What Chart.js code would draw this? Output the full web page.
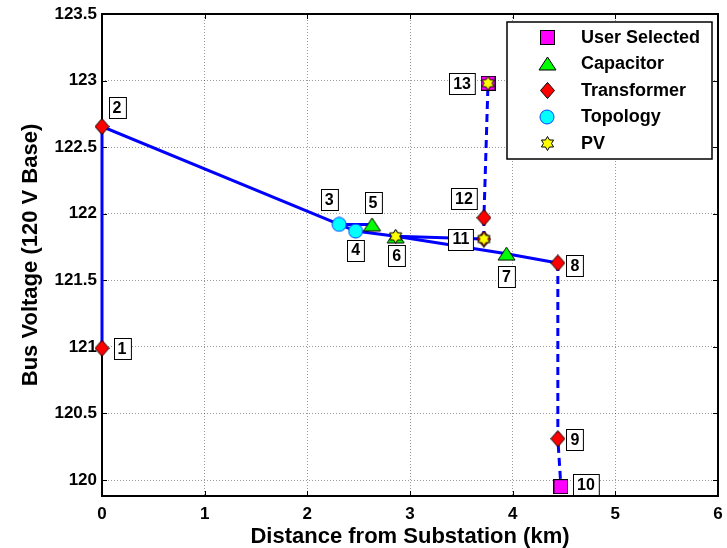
<!DOCTYPE html>
<html>
<head>
<meta charset="utf-8">
<title>Bus Voltage Profile</title>
<script src="https://cdn.jsdelivr.net/npm/chart.js@4.4.0/dist/chart.umd.min.js"></script>
<style>
    html, body { margin: 0; padding: 0; background: #fff; }
    #busChart { display: block; }
</style>
</head>
<body>
<canvas id="busChart" width="727" height="548"></canvas>
<script>
// Bus voltage profile along the feeder

// Bus data (index 0 = bus 1)
const busNames = ['1', '2', '3', '4', '5', '6', '7', '8', '9', '10', '11', '12', '13'];
const busDistance = [0, 0, 2.31, 2.47, 2.63, 2.86, 3.94, 4.44, 4.44, 4.47, 3.72, 3.72, 3.76];
const busVoltage = [120.99, 122.655, 121.92, 121.87, 121.92, 121.83, 121.70, 121.63, 120.31, 119.95, 121.81, 121.97, 122.98];

// Feeder segments, as bus numbers
const mainPath = [1, 2, 3, 4, 6, 7, 8];
const capBranch = [3, 5];
const pvBranch = [6, 11];
const lowerDashed = [8, 9, 10];
const upperDashed = [11, 12, 13];

// Marker groups, as bus numbers
const userSelectedBuses = [10, 13];
const capacitorBuses = [5, 6, 7];
const transformerBuses = [1, 2, 8, 9, 11, 12];
const topologyBuses = [3, 4];
const pvBuses = [6, 11, 13];

const legendNames = ['User Selected', 'Capacitor', 'Transformer', 'Topology', 'PV'];

// Axis ticks
const xTicks = [0, 1, 2, 3, 4, 5, 6];
const yTicks = [120, 120.5, 121, 121.5, 122, 122.5, 123, 123.5];

// Label box offsets (px) from each bus marker
const labelOffset = {
    1: [20, 0], 2: [15, -19], 3: [-10, -25], 4: [0, 19], 5: [1, -22],
    6: [1, 19], 7: [0, 23], 8: [17, 3], 9: [17, 1], 10: [25, -2],
    11: [-23, 0], 12: [-20, -19], 13: [-26, 0]
};

const FONT = '"Liberation Sans", Arial, sans-serif';

function toPoints(buses) {
    return buses.map(b => ({ x: busDistance[b - 1], y: busVoltage[b - 1] }));
}

// Marker images
function makeMarker(w, h, draw) {
    const c = document.createElement('canvas');
    c.width = w;
    c.height = h;
    draw(c.getContext('2d'), w, h);
    return c;
}

const squareImg = makeMarker(15, 15, (g, w, h) => {
    g.fillStyle = '#ff00ff';
    g.strokeStyle = '#000';
    g.lineWidth = 1;
    g.fillRect(0.5, 0.5, w - 1, h - 1);
    g.strokeRect(0.5, 0.5, w - 1, h - 1);
});

const triangleImg = makeMarker(19, 15, (g, w, h) => {
    g.beginPath();
    g.moveTo(w / 2, 1);
    g.lineTo(w - 1, h - 1);
    g.lineTo(1, h - 1);
    g.closePath();
    g.fillStyle = '#00ff00';
    g.fill();
    g.strokeStyle = '#000';
    g.lineWidth = 1;
    g.stroke();
});

const diamondImg = makeMarker(15, 17, (g, w, h) => {
    g.beginPath();
    g.moveTo(w / 2, 0.5);
    g.lineTo(w - 0.5, h / 2);
    g.lineTo(w / 2, h - 0.5);
    g.lineTo(0.5, h / 2);
    g.closePath();
    g.fillStyle = '#ff0000';
    g.fill();
    g.strokeStyle = '#000';
    g.lineWidth = 1;
    g.stroke();
});

const circleImg = makeMarker(16, 16, (g, w, h) => {
    g.beginPath();
    g.arc(w / 2, h / 2, 7, 0, Math.PI * 2);
    g.fillStyle = '#00ffff';
    g.fill();
    g.strokeStyle = '#0044ff';
    g.lineWidth = 1;
    g.stroke();
});

const starImg = makeMarker(15, 15, (g, w, h) => {
    const R = 7, r = R / Math.sqrt(3);
    g.beginPath();
    for (let i = 0; i < 12; i++) {
        const a = -Math.PI / 2 + i * Math.PI / 6;
        const rad = i % 2 === 0 ? R : r;
        const px = w / 2 + rad * Math.cos(a);
        const py = h / 2 + rad * Math.sin(a);
        if (i === 0) g.moveTo(px, py); else g.lineTo(px, py);
    }
    g.closePath();
    g.fillStyle = '#ffff00';
    g.fill();
    g.strokeStyle = '#000';
    g.lineWidth = 1;
    g.stroke();
});

function lineSet(buses, dashed) {
    return {
        data: toPoints(buses),
        showLine: true,
        borderColor: '#0000ff',
        borderWidth: 3,
        borderDash: dashed ? [8, 5] : [],
        pointRadius: 0,
        pointHoverRadius: 0,
        clip: false,
        order: 10,
        isLegend: false
    };
}

function markerSet(name, buses, img, order) {
    return {
        label: name,
        data: toPoints(buses),
        showLine: false,
        pointStyle: img,
        pointRadius: 8,
        clip: false,
        order: order,
        isLegend: true
    };
}

const datasets = [
    lineSet(mainPath, false),
    lineSet(capBranch, false),
    lineSet(pvBranch, false),
    lineSet(lowerDashed, true),
    lineSet(upperDashed, true),
    markerSet(legendNames[0], userSelectedBuses, squareImg, 2),
    markerSet(legendNames[1], capacitorBuses, triangleImg, 2),
    markerSet(legendNames[2], transformerBuses, diamondImg, 2),
    markerSet(legendNames[3], topologyBuses, circleImg, 2),
    markerSet(legendNames[4], pvBuses, starImg, 0)
];

// Plot box with inward ticks (MATLAB style)
const frameBox = {
    id: 'frameBox',
    beforeDatasetsDraw(chart) {
        const { ctx, chartArea: a, scales } = chart;
        ctx.save();
        ctx.strokeStyle = '#000';
        ctx.lineWidth = 1;
        ctx.beginPath();
        xTicks.forEach(v => {
            const px = Math.round(scales.x.getPixelForValue(v)) + 0.5;
            ctx.moveTo(px, a.bottom); ctx.lineTo(px, a.bottom - 5);
            ctx.moveTo(px, a.top); ctx.lineTo(px, a.top + 5);
        });
        yTicks.forEach(v => {
            const py = Math.round(scales.y.getPixelForValue(v)) + 0.5;
            ctx.moveTo(a.left, py); ctx.lineTo(a.left + 5, py);
            ctx.moveTo(a.right, py); ctx.lineTo(a.right - 5, py);
        });
        ctx.stroke();
        ctx.lineWidth = 2;
        ctx.strokeRect(a.left, a.top, a.right - a.left, a.bottom - a.top);
        ctx.restore();
    }
};

// Numbered boxes next to each bus
const busLabels = {
    id: 'busLabels',
    afterDatasetsDraw(chart) {
        const { ctx, scales } = chart;
        ctx.save();
        ctx.font = 'bold 16px ' + FONT;
        ctx.textAlign = 'center';
        ctx.textBaseline = 'middle';
        busNames.forEach((name, i) => {
            const off = labelOffset[i + 1];
            const cx = scales.x.getPixelForValue(busDistance[i]) + off[0];
            const cy = scales.y.getPixelForValue(busVoltage[i]) + off[1];
            const w = ctx.measureText(name).width + 8;
            const h = 21;
            const bx = Math.round(cx - w / 2) + 0.5;
            const by = Math.round(cy - h / 2) + 0.5;
            ctx.fillStyle = '#fff';
            ctx.fillRect(bx, by, w, h);
            ctx.strokeStyle = '#000';
            ctx.lineWidth = 1;
            ctx.strokeRect(bx, by, w, h);
            ctx.fillStyle = '#000';
            ctx.fillText(name, cx, cy + 1);
        });
        ctx.restore();
    }
};

// Legend box in the top right corner
const legendBox = {
    id: 'legendBox',
    afterDatasetsDraw(chart) {
        const { ctx } = chart;
        const items = chart.data.datasets.filter(d => d.isLegend);
        const box = { x: 507, y: 22, w: 205, h: 137 };
        ctx.save();
        ctx.fillStyle = '#fff';
        ctx.fillRect(box.x, box.y, box.w, box.h);
        ctx.strokeStyle = '#000';
        ctx.lineWidth = 1.5;
        ctx.strokeRect(box.x, box.y, box.w, box.h);
        ctx.font = 'bold 18px ' + FONT;
        ctx.textAlign = 'left';
        ctx.textBaseline = 'middle';
        ctx.fillStyle = '#000';
        items.forEach((d, i) => {
            const rowY = box.y + 15 + i * 26.5;
            const img = d.pointStyle;
            ctx.drawImage(img, Math.round(547 - img.width / 2), Math.round(rowY - img.height / 2));
            ctx.fillText(d.label, 581, rowY + 1);
        });
        ctx.restore();
    }
};

new Chart(document.getElementById('busChart'), {
    type: 'scatter',
    data: { datasets: datasets },
    options: {
        responsive: false,
        animation: false,
        layout: { padding: { left: 0, right: 7, top: 14, bottom: 0 } },
        plugins: {
            legend: { display: false },
            tooltip: { enabled: false }
        },
        scales: {
            x: {
                type: 'linear',
                min: 0,
                max: 6,
                afterBuildTicks: scale => { scale.ticks = xTicks.map(v => ({ value: v })); },
                afterFit: scale => {
                    scale.height = 52;
                    scale.paddingLeft = 0;
                    scale.paddingRight = 0;
                },
                ticks: {
                    color: '#000',
                    padding: 8,
                    font: { family: FONT, size: 17, weight: 'bold' },
                    callback: v => String(v)
                },
                grid: { color: 'rgba(0,0,0,0.4)', lineWidth: 1, drawTicks: false },
                border: { display: false, dash: [1, 2] },
                title: {
                    display: true,
                    text: 'Distance from Substation (km)',
                    color: '#000',
                    padding: { top: 0, bottom: 0 },
                    font: { family: FONT, size: 22, weight: 'bold', lineHeight: 1 }
                }
            },
            y: {
                type: 'linear',
                min: 119.88,
                max: 123.5,
                afterBuildTicks: scale => { scale.ticks = yTicks.map(v => ({ value: v })); },
                afterFit: scale => {
                    scale.width = 102;
                    scale.paddingTop = 0;
                    scale.paddingBottom = 0;
                },
                ticks: {
                    color: '#000',
                    padding: 5,
                    font: { family: FONT, size: 17, weight: 'bold' },
                    callback: v => String(v)
                },
                grid: { color: 'rgba(0,0,0,0.4)', lineWidth: 1, drawTicks: false },
                border: { display: false, dash: [1, 2] },
                title: {
                    display: true,
                    text: 'Bus Voltage (120 V Base)',
                    color: '#000',
                    padding: { top: 20, bottom: 0 },
                    font: { family: FONT, size: 22, weight: 'bold', lineHeight: 1 }
                }
            }
        }
    },
    plugins: [frameBox, busLabels, legendBox]
});
</script>
</body>
</html>
